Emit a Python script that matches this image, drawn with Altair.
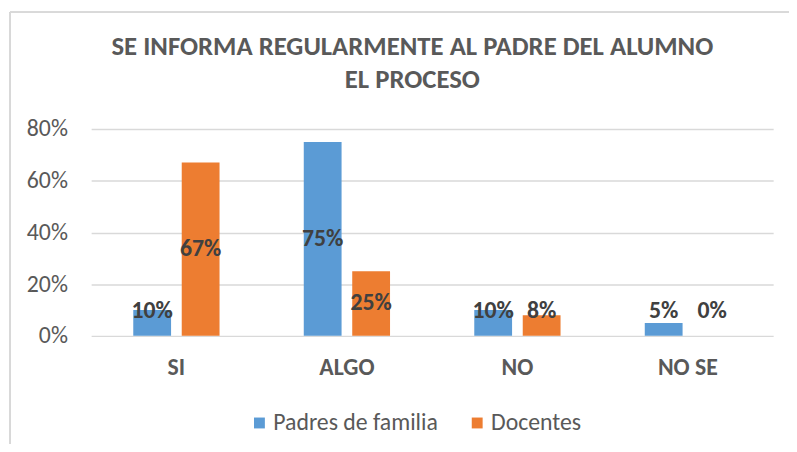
import altair as alt
import pandas as pd

categories = ["SI", "ALGO", "NO", "NO SE"]
series_names = ["Padres de familia", "Docentes"]
padres = [0.10, 0.75, 0.10, 0.05]
docentes = [0.67, 0.25, 0.08, 0.00]
colors = ["#5B9BD5", "#ED7D31"]
y_ticks = [0, 0.2, 0.4, 0.6, 0.8]
title_lines = ["SE INFORMA REGULARMENTE AL PADRE DEL ALUMNO", "EL PROCESO"]

rows = []
for i, c in enumerate(categories):
    rows.append({"cat": c, "serie": series_names[0], "v": padres[i]})
    rows.append({"cat": c, "serie": series_names[1], "v": docentes[i]})
df = pd.DataFrame(rows)

FONT = "Carlito, Open Sans"
GRAY = "#595959"

x_enc = alt.X("cat:N", sort=categories,
              scale=alt.Scale(paddingInner=0.494, paddingOuter=0.247),
              axis=alt.Axis(title=None, labelAngle=0, ticks=False, domain=False,
                            labelFontWeight="bold", labelFontSize=24, labelColor=GRAY,
                            labelFont=FONT, labelPadding=20, grid=False))
xo_enc = alt.XOffset("serie:N", sort=series_names,
                     scale=alt.Scale(paddingInner=0.22, paddingOuter=0))
color_enc = alt.Color("serie:N", sort=series_names,
                      scale=alt.Scale(domain=series_names, range=colors),
                      legend=alt.Legend(title=None, orient="none", direction="horizontal",
                                        legendX=158, legendY=285, symbolType="square",
                                        symbolSize=121, symbolStrokeWidth=0,
                                        labelFontSize=24, labelFont=FONT, labelColor=GRAY,
                                        labelLimit=400, columnPadding=27, labelOffset=2))

bars = alt.Chart(df).mark_bar().encode(
    x=x_enc,
    xOffset=xo_enc,
    y=alt.Y("v:Q", scale=alt.Scale(domain=[0, 0.8]),
            axis=alt.Axis(title=None, values=y_ticks, format=".0%", ticks=False,
                          domain=False, labelFontSize=24, labelColor=GRAY,
                          labelFont=FONT, labelPadding=24, gridColor="#D9D9D9",
                          gridWidth=1.5)),
    color=color_enc,
)

labels = alt.Chart(df).transform_calculate(
    pos="max(datum.v / 2, 0.095)"
).mark_text(fontWeight="bold", fontSize=24, font=FONT, color="#404040",
            baseline="middle", align="center").encode(
    x=alt.X("cat:N", sort=categories),
    xOffset=alt.XOffset("serie:N", sort=series_names),
    y=alt.Y("pos:Q"),
    text=alt.Text("v:Q", format=".0%"),
)

frame_left = alt.Chart(df).mark_rule(color="#D9D9D9", strokeWidth=1.5).encode(
    x=alt.value(-82), y=alt.value(-118), y2=alt.value(330))
frame_top = alt.Chart(df).mark_rule(color="#D9D9D9", strokeWidth=1.5).encode(
    x=alt.value(-82), x2=alt.value(720), y=alt.value(-118))

chart = alt.layer(frame_left, frame_top, bars, labels).properties(
    width=689, height=209,
    autosize=alt.AutoSizeParams(type="none"),
    padding={"left": 84, "top": 120, "right": 16, "bottom": 107},
    title=alt.TitleParams(text=title_lines, fontSize=27, font=FONT, fontWeight="bold",
                          color=GRAY, anchor="middle", dx=-20, dy=113, offset=30,
                          lineHeight=33),
).configure_view(stroke=None)

chart.save("out.html", embed_options={"renderer": "svg", "actions": False})
